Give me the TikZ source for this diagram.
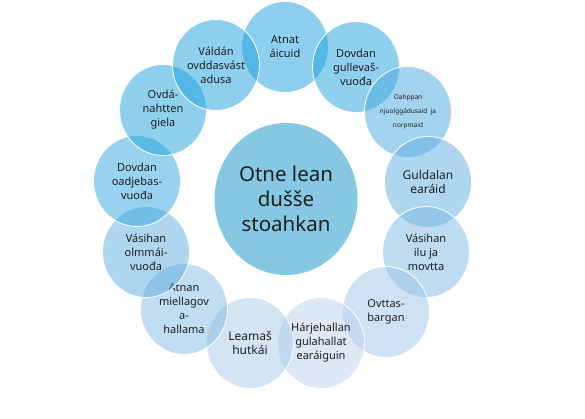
\documentclass[tikz,border=0pt]{standalone}
\usepackage{fontspec}
\setmainfont{Noto Sans}
\usetikzlibrary{shapes.geometric}

\definecolor{hubblue}{HTML}{86C8E2}
\definecolor{pa}{HTML}{1B9FDD}
\definecolor{pb}{HTML}{1FA1DD}
\definecolor{pc}{HTML}{47A9DF}
\definecolor{pd}{HTML}{5FADE1}
\definecolor{pe}{HTML}{7BB9E3}
\definecolor{pf}{HTML}{9FC5E7}
\definecolor{pg}{HTML}{B9D1EB}
\definecolor{ph}{HTML}{A7C9E7}
\definecolor{pi}{HTML}{81BBE3}
\definecolor{pj}{HTML}{5DADE1}
\definecolor{pk}{HTML}{33A5DD}
\definecolor{pl}{HTML}{1FA1DD}
\definecolor{pm}{HTML}{1DA0DD}

\begin{document}
\begin{tikzpicture}[
    x=1pt, y=-1pt,
    font=\fontsize{11}{14}\selectfont,
    hub/.style={ellipse, fill=hubblue, minimum width=143pt, minimum height=152pt, align=center, text=black!88, font=\fontsize{20.5}{25}\selectfont},
    petal/.style={ellipse, draw=white, line width=0.8pt, fill=#1, fill opacity=0.5, text opacity=1, text=black!88, minimum width=87pt, minimum height=91pt, inner sep=0pt, align=center}
]
\useasboundingbox (0,0) rectangle (585,419);

% Centre
\node[hub] (hub) at (286,199) {Otne lean\\dušše\\stoahkan};

% Petals, clockwise from the top
\node[petal=pa] (atnat) at (285,47) {Atnat\\áicuid};
\node[petal=pb] (gullevas) at (356,67) {Dovdan\\gullevaš-\\vuođa};
\node[petal=pc] (oahppan) at (408,112) {\fontsize{6.5}{8.5}\selectfont Oahppan\\\fontsize{6.5}{8.5}\selectfont njuolggádusaid\ \ ja\\\fontsize{6.5}{8.5}\selectfont norpmaid};
\node[petal=pd] (guldalan) at (428,182) {\fontsize{12}{15.5}\selectfont Guldalan\\\fontsize{12}{15.5}\selectfont earáid};
\node[petal=pe] (ilu) at (426,252) {Vásihan\\ilu ja\\movtta};
\node[petal=pf] (ovttas) at (386,312) {Ovttas-\\bargan};
\node[petal=pg] (harjehallan) at (321,343) {Hárjehallan\\gulahallat\\earáiguin};
\node[petal=ph] (leamas) at (250,343) {\fontsize{12}{15.5}\selectfont Leamaš\\\fontsize{12}{15.5}\selectfont hutkái};
\node[petal=pi] (atnan) at (184,309) {Atnan\\miellagov\\a-\\hallama};
\node[petal=pj] (olmmai) at (146,252) {Vásihan\\olmmái-\\vuođa};
\node[petal=pk] (oadjebas) at (137,181) {Dovdan\\oadjebas-\\vuođa};
\node[petal=pl] (ovda) at (163,110) {Ovdá-\\nahtten\\giela};
\node[petal=pm] (valdan) at (216,65) {Váldán\\ovddasvást\\adusa};

\end{tikzpicture}
\end{document}
